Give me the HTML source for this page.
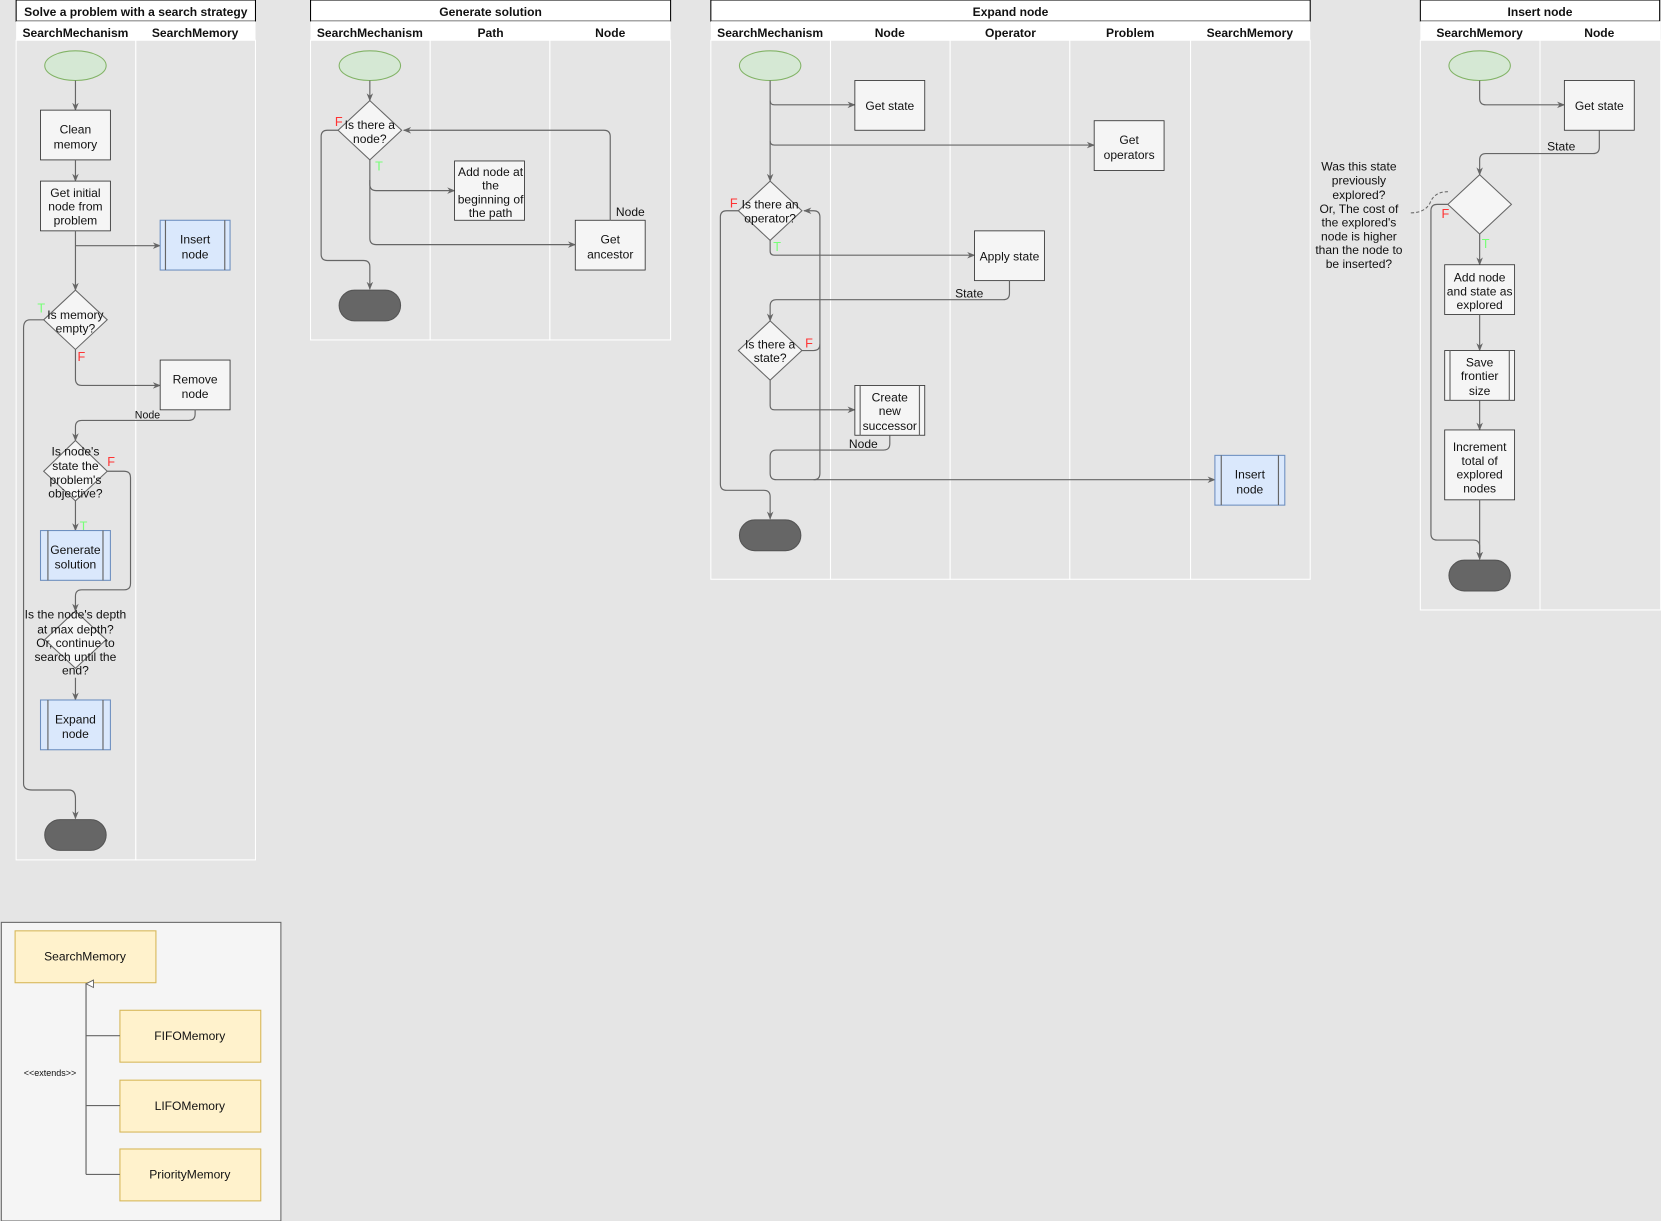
<!DOCTYPE html>
<html><head><meta charset="utf-8"><style>
html,body{margin:0;padding:0;background:#e5e5e5;}
svg{display:block;}
text{font-family:"Liberation Sans",sans-serif;font-size:11.4px;fill:#111;}
.b{font-weight:bold;}
.ln{fill:none;stroke:#666;stroke-width:1.1;}
.box{fill:#f5f5f5;stroke:#333;stroke-width:0.8;}
.dia{fill:#f5f5f5;stroke:#666;stroke-width:1;}
.blue{fill:#dae8fc;stroke:#6c8ebf;stroke-width:1;}
.yel{fill:#fff2cc;stroke:#d6b656;stroke-width:1;}
.st{fill:#d5e8d4;stroke:#82b366;stroke-width:1;}
.end{fill:#666;stroke:#555;}
.F{fill:#f33;font-size:12px;}
.T{fill:#7f7;font-size:12px;}
.lane{fill:#e5e5e5;stroke:#fff;stroke-width:1;}
</style></head><body>
<svg width="1661" height="1221" viewBox="0 0 1568 1153" xmlns="http://www.w3.org/2000/svg">
<defs><marker id="a" viewBox="0 0 10 10" refX="9" refY="5" markerWidth="7" markerHeight="7" orient="auto"><path d="M0,1 L10,5 L0,9 L3,5 Z" fill="#666"/></marker>
<marker id="h" viewBox="0 0 10 10" refX="5" refY="1" markerWidth="8" markerHeight="8" orient="auto-start-reverse"><path d="M1,9 L5,1 L9,9 Z" fill="#fff" stroke="#666"/></marker></defs>
<rect width="1568" height="1153" fill="#e5e5e5"/>

<!-- Pool 1 -->
<rect x="15" y="0" width="226" height="20" fill="#fff" stroke="#000"/>
<text class="b" x="128" y="15" text-anchor="middle">Solve a problem with a search strategy</text>
<rect x="15" y="20" width="226" height="18" fill="#fff"/>
<text class="b" x="71" y="35" text-anchor="middle">SearchMechanism</text>
<text class="b" x="184" y="35" text-anchor="middle">SearchMemory</text>
<rect class="lane" x="15" y="38" width="113" height="774"/>
<rect class="lane" x="128" y="38" width="113" height="774"/>

<!-- Pool 2 -->
<rect x="293" y="0" width="340" height="20" fill="#fff" stroke="#000"/>
<text class="b" x="463" y="15" text-anchor="middle">Generate solution</text>
<rect x="293" y="20" width="340" height="18" fill="#fff"/>
<text class="b" x="349" y="35" text-anchor="middle">SearchMechanism</text>
<text class="b" x="463" y="35" text-anchor="middle">Path</text>
<text class="b" x="576" y="35" text-anchor="middle">Node</text>
<rect class="lane" x="293" y="38" width="113" height="283"/>
<rect class="lane" x="406" y="38" width="113" height="283"/>
<rect class="lane" x="519" y="38" width="114" height="283"/>

<!-- Pool 3 -->
<rect x="671" y="0" width="566" height="20" fill="#fff" stroke="#000"/>
<text class="b" x="954" y="15" text-anchor="middle">Expand node</text>
<rect x="671" y="20" width="566" height="18" fill="#fff"/>
<text class="b" x="727" y="35" text-anchor="middle">SearchMechanism</text>
<text class="b" x="840" y="35" text-anchor="middle">Node</text>
<text class="b" x="954" y="35" text-anchor="middle">Operator</text>
<text class="b" x="1067" y="35" text-anchor="middle">Problem</text>
<text class="b" x="1180" y="35" text-anchor="middle">SearchMemory</text>
<rect class="lane" x="671" y="38" width="113" height="509"/>
<rect class="lane" x="784" y="38" width="113" height="509"/>
<rect class="lane" x="897" y="38" width="113" height="509"/>
<rect class="lane" x="1010" y="38" width="114" height="509"/>
<rect class="lane" x="1124" y="38" width="113" height="509"/>

<!-- Pool 4 -->
<rect x="1341" y="0" width="226" height="20" fill="#fff" stroke="#000"/>
<text class="b" x="1454" y="15" text-anchor="middle">Insert node</text>
<rect x="1341" y="20" width="227" height="18" fill="#fff"/>
<text class="b" x="1397" y="35" text-anchor="middle">SearchMemory</text>
<text class="b" x="1510" y="35" text-anchor="middle">Node</text>
<rect class="lane" x="1341" y="38" width="113" height="538"/>
<rect class="lane" x="1454" y="38" width="114" height="538"/>

<!-- ===== Pool 1 content ===== -->
<ellipse class="st" cx="71" cy="62" rx="29" ry="14"/>
<path class="ln" d="M71,76 V104" marker-end="url(#a)"/>
<rect class="box" x="38" y="104" width="66" height="47"/>
<text x="71" y="126" text-anchor="middle">Clean</text><text x="71" y="140" text-anchor="middle">memory</text>
<path class="ln" d="M71,151 V171" marker-end="url(#a)"/>
<rect class="box" x="38" y="171" width="66" height="47"/>
<text x="71" y="186" text-anchor="middle">Get initial</text><text x="71" y="199" text-anchor="middle">node from</text><text x="71" y="212" text-anchor="middle">problem</text>
<path class="ln" d="M71,218 V274" marker-end="url(#a)"/>
<path class="ln" d="M71,232 H151" marker-end="url(#a)"/>
<rect class="blue" x="151" y="208" width="66" height="47"/><path class="ln" d="M156,208V255M212,208V255" stroke="#6c8ebf"/>
<text x="184" y="230" text-anchor="middle">Insert</text><text x="184" y="244" text-anchor="middle">node</text>
<polygon class="dia" points="71,274 101,302 71,330 41,302"/>
<text x="71" y="301" text-anchor="middle">Is memory</text><text x="71" y="314" text-anchor="middle">empty?</text>
<text class="T" x="35" y="295">T</text>
<path class="ln" d="M71,330 V358 Q71,364 77,364 H151" marker-end="url(#a)"/>
<text class="F" x="73" y="341">F</text>
<path class="ln" d="M41,302 H28 Q22,302 22,310 V740 Q22,746 30,746 H65 Q71,746 71,754 V773" marker-end="url(#a)"/>
<rect class="box" x="151" y="340" width="66" height="47"/>
<text x="184" y="362" text-anchor="middle">Remove</text><text x="184" y="376" text-anchor="middle">node</text>
<path class="ln" d="M184,387 V391 Q184,397 178,397 H77 Q71,397 71,403 V416" marker-end="url(#a)"/>
<text x="139" y="395" text-anchor="middle" style="font-size:10px">Node</text>
<polygon class="dia" points="71,416 101,445 71,473 41,445"/>
<text x="71" y="430" text-anchor="middle">Is node's</text><text x="71" y="444" text-anchor="middle">state the</text><text x="71" y="457" text-anchor="middle">problem's</text><text x="71" y="470" text-anchor="middle">objective?</text>
<text class="F" x="101" y="440">F</text>
<text class="T" x="75" y="501" >T</text>
<path class="ln" d="M71,473 V501" marker-end="url(#a)"/>
<rect class="blue" x="38" y="501" width="66" height="47"/><path class="ln" d="M45,501V548M97,501V548" stroke="#6c8ebf"/>
<text x="71" y="523" text-anchor="middle">Generate</text><text x="71" y="537" text-anchor="middle">solution</text>
<path class="ln" d="M101,445 H117 Q123,445 123,451 V551 Q123,557 117,557 H77 Q71,557 71,563 V577" marker-end="url(#a)"/>
<polygon class="dia" points="71,577 100,604 71,631 42,604"/>
<text x="71" y="584" text-anchor="middle">Is the node's depth</text><text x="71" y="598" text-anchor="middle">at max depth?</text><text x="71" y="611" text-anchor="middle">Or, continue to</text><text x="71" y="624" text-anchor="middle">search until the</text><text x="71" y="637" text-anchor="middle">end?</text>
<path class="ln" d="M71,640 V661" marker-end="url(#a)"/>
<rect class="blue" x="38" y="661" width="66" height="47"/><path class="ln" d="M45,661V708M97,661V708" stroke="#6c8ebf"/>
<text x="71" y="683" text-anchor="middle">Expand</text><text x="71" y="697" text-anchor="middle">node</text>
<rect class="end" x="42" y="774" width="58" height="29" rx="14.5"/>

<!-- ===== Pool 2 content ===== -->
<ellipse class="st" cx="349" cy="62" rx="29" ry="14"/>
<path class="ln" d="M349,76 V95" marker-end="url(#a)"/>
<polygon class="dia" points="349,95 379,123 349,151 319,123"/>
<text x="349" y="122" text-anchor="middle">Is there a</text><text x="349" y="135" text-anchor="middle">node?</text>
<text class="F" x="316" y="119">F</text>
<text class="T" x="354" y="161">T</text>
<path class="ln" d="M319,123 H309 Q303,123 303,129 V240 Q303,246 309,246 H343 Q349,246 349,252 V273" marker-end="url(#a)"/>
<path class="ln" d="M349,151 V174 Q349,180 355,180 H429" marker-end="url(#a)"/>
<path class="ln" d="M349,170 V225 Q349,231 355,231 H543" marker-end="url(#a)"/>
<rect class="box" x="429" y="152" width="66" height="56"/>
<text x="463" y="166" text-anchor="middle">Add node at</text><text x="463" y="179" text-anchor="middle">the</text><text x="463" y="192" text-anchor="middle">beginning of</text><text x="463" y="205" text-anchor="middle">the path</text>
<rect class="box" x="543" y="208" width="66" height="47"/>
<text x="576" y="230" text-anchor="middle">Get</text><text x="576" y="244" text-anchor="middle">ancestor</text>
<path class="ln" d="M576,208 V129 Q576,123 570,123 H381" marker-end="url(#a)"/>
<text x="595" y="204" text-anchor="middle">Node</text>
<rect class="end" x="320" y="274" width="58" height="29" rx="14.5"/>

<!-- ===== Pool 3 content ===== -->
<ellipse class="st" cx="727" cy="62" rx="29" ry="14"/>
<path class="ln" d="M727,76 V95 Q727,99 731,99 H807" marker-end="url(#a)"/>
<path class="ln" d="M727,95 V133 Q727,137 731,137 H1033" marker-end="url(#a)"/>
<path class="ln" d="M727,133 V171" marker-end="url(#a)"/>
<rect class="box" x="807" y="76" width="66" height="47"/><text x="840" y="104" text-anchor="middle">Get state</text>
<rect class="box" x="1033" y="114" width="66" height="47"/><text x="1066" y="136" text-anchor="middle">Get</text><text x="1066" y="150" text-anchor="middle">operators</text>
<polygon class="dia" points="727,171 757,199 727,227 697,199"/>
<text x="727" y="197" text-anchor="middle">Is there an</text><text x="727" y="210" text-anchor="middle">operator?</text>
<text class="F" x="689" y="196">F</text>
<text class="T" x="730" y="237">T</text>
<path class="ln" d="M697,199 H686 Q680,199 680,205 V457 Q680,463 686,463 H721 Q727,463 727,469 V490" marker-end="url(#a)"/>
<path class="ln" d="M727,227 V237 Q727,241 731,241 H920" marker-end="url(#a)"/>
<rect class="box" x="920" y="218" width="66" height="47"/><text x="953" y="246" text-anchor="middle">Apply state</text>
<path class="ln" d="M953,265 V277 Q953,283 947,283 H733 Q727,283 727,289 V303" marker-end="url(#a)"/>
<text x="915" y="281" text-anchor="middle">State</text>
<polygon class="dia" points="727,303 757,331 727,359 697,331"/>
<text x="727" y="329" text-anchor="middle">Is there a</text><text x="727" y="342" text-anchor="middle">state?</text>
<text class="F" x="760" y="328">F</text>
<path class="ln" d="M757,331 H768 Q774,331 774,325 V205 Q774,199 768,199 H759" marker-end="url(#a)"/>
<path class="ln" d="M727,359 V383 Q727,387 731,387 H807" marker-end="url(#a)"/>
<rect class="box" x="807" y="364" width="66" height="47"/><path class="ln" d="M812,364V411M868,364V411" stroke="#333"/>
<text x="840" y="379" text-anchor="middle">Create</text><text x="840" y="392" text-anchor="middle">new</text><text x="840" y="406" text-anchor="middle">successor</text>
<path class="ln" d="M840,411 V419 Q840,425 834,425 H733 Q727,425 727,431 V447 Q727,453 733,453 H1147" marker-end="url(#a)"/>
<path class="ln" d="M774,325 V447 Q774,453 768,453"/>
<text x="815" y="423" text-anchor="middle">Node</text>
<rect class="blue" x="1147" y="430" width="66" height="47"/><path class="ln" d="M1153,430V477M1207,430V477" stroke="#6c8ebf"/>
<text x="1180" y="452" text-anchor="middle">Insert</text><text x="1180" y="466" text-anchor="middle">node</text>
<rect class="end" x="698" y="491" width="58" height="29" rx="14.5"/>

<!-- ===== Pool 4 content ===== -->
<ellipse class="st" cx="1397" cy="62" rx="29" ry="14"/>
<path class="ln" d="M1397,76 V93 Q1397,99 1403,99 H1477" marker-end="url(#a)"/>
<rect class="box" x="1477" y="76" width="66" height="47"/><text x="1510" y="104" text-anchor="middle">Get state</text>
<path class="ln" d="M1510,123 V139 Q1510,145 1504,145 H1403 Q1397,145 1397,151 V165" marker-end="url(#a)"/>
<text x="1474" y="142" text-anchor="middle">State</text>
<polygon class="dia" points="1397,165 1427,193 1397,221 1367,193"/>
<path d="M1332,201 Q1345,201 1350,192 Q1354,181 1367,181" fill="none" stroke="#666" stroke-dasharray="3,2"/>
<g text-anchor="middle"><text x="1283" y="161">Was this state</text><text x="1283" y="174">previously</text><text x="1283" y="188">explored?</text><text x="1283" y="201">Or, The cost of</text><text x="1283" y="214">the explored's</text><text x="1283" y="227">node is higher</text><text x="1283" y="240">than the node to</text><text x="1283" y="253">be inserted?</text></g>
<text class="F" x="1361" y="206">F</text>
<text class="T" x="1399" y="234">T</text>
<path class="ln" d="M1367,193 H1357 Q1351,193 1351,199 V504 Q1351,510 1357,510 H1391 Q1397,510 1397,516 V528" marker-end="url(#a)"/>
<path class="ln" d="M1397,221 V250" marker-end="url(#a)"/>
<rect class="box" x="1364" y="250" width="66" height="47"/>
<text x="1397" y="266" text-anchor="middle">Add node</text><text x="1397" y="279" text-anchor="middle">and state as</text><text x="1397" y="292" text-anchor="middle">explored</text>
<path class="ln" d="M1397,297 V331" marker-end="url(#a)"/>
<rect class="box" x="1364" y="331" width="66" height="47"/><path class="ln" d="M1369,331V378M1425,331V378" stroke="#333"/>
<text x="1397" y="346" text-anchor="middle">Save</text><text x="1397" y="359" text-anchor="middle">frontier</text><text x="1397" y="373" text-anchor="middle">size</text>
<path class="ln" d="M1397,378 V406" marker-end="url(#a)"/>
<rect class="box" x="1364" y="406" width="66" height="66"/>
<text x="1397" y="426" text-anchor="middle">Increment</text><text x="1397" y="439" text-anchor="middle">total of</text><text x="1397" y="452" text-anchor="middle">explored</text><text x="1397" y="465" text-anchor="middle">nodes</text>
<path class="ln" d="M1397,472 V528" marker-end="url(#a)"/>
<rect class="end" x="1368" y="529" width="58" height="29" rx="14.5"/>

<!-- ===== Legend ===== -->
<rect x="1" y="871" width="264" height="282" fill="#f5f5f5" stroke="#666"/>
<rect class="yel" x="14" y="879" width="133" height="49"/><text x="80" y="907" text-anchor="middle">SearchMemory</text>
<rect class="yel" x="113" y="954" width="133" height="49"/><text x="179" y="982" text-anchor="middle">FIFOMemory</text>
<rect class="yel" x="113" y="1020" width="133" height="49"/><text x="179" y="1048" text-anchor="middle">LIFOMemory</text>
<rect class="yel" x="113" y="1085" width="133" height="49"/><text x="179" y="1113" text-anchor="middle">PriorityMemory</text>
<path class="ln" d="M81,1109 V929" marker-end="url(#h)"/>
<path class="ln" d="M113,978 H81 M113,1044 H81 M113,1109 H81"/>
<text x="47" y="1016" text-anchor="middle" style="font-size:8.5px">&lt;&lt;extends&gt;&gt;</text>
</svg>
</body></html>
